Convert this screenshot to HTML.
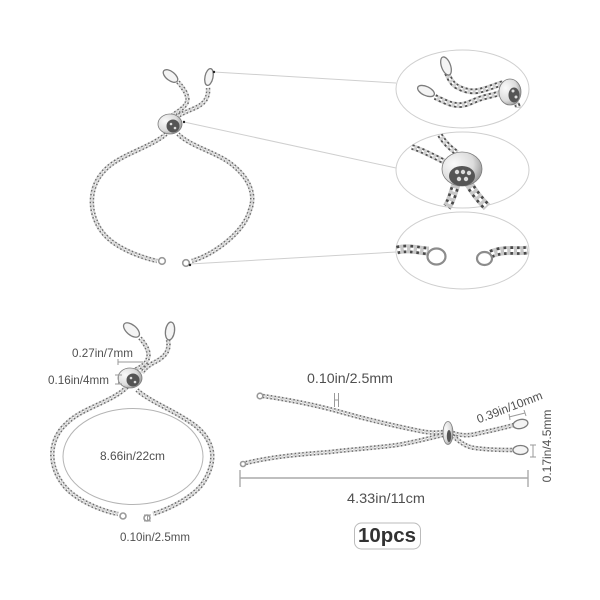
<!DOCTYPE html>
<html><head><meta charset="utf-8">
<style>
html,body{margin:0;padding:0;background:#fff;width:600px;height:600px;overflow:hidden}
svg{display:block}
text{font-family:"Liberation Sans",sans-serif;fill:#505050}
</style></head><body>
<svg width="600" height="600" viewBox="0 0 600 600" xmlns="http://www.w3.org/2000/svg">
<defs>
<filter id="b" x="-5%" y="-5%" width="110%" height="110%"><feGaussianBlur stdDeviation="0.35"/></filter>
<filter id="t" x="-5%" y="-20%" width="110%" height="140%"><feGaussianBlur stdDeviation="0.25"/></filter>
<radialGradient id="sl" cx="0.3" cy="0.35" r="0.8"><stop offset="0" stop-color="#fafafa"/><stop offset="0.6" stop-color="#dcdcdc"/><stop offset="1" stop-color="#8c8c8c"/></radialGradient>
<g id="c1" fill="none">
<path d="M178 82C185 90 190 98 186 104C182 110 176 112 172 116"/>
<path d="M208 88C209 98 204 104 195 108C188 111 183 113 178 116"/>
<path d="M166 134C150 148 118 155 104 171C88 188 88 214 103 233C115 248 140 257 157 261"/>
<path d="M178 134C190 146 215 152 230 163C250 178 256 195 250 210C244 232 215 254 192 261"/>
<path d="M140 338C146 345 150 352 148 358C146 365 140 367 135 370"/>
<path d="M168 340C170 350 166 357 153 363C148 366 144 369 142 373"/>
<path d="M127 387C112 402 82 408 67 423C50 438 47 462 62 483C72 498 98 510 118 514"/>
<path d="M137 390C150 402 178 412 197 427C214 442 218 460 203 483C194 496 172 508 153 514"/>
<path d="M263 396C290 400 315 405 337 411C365 419 395 426 420 431C430 433 436 433 443 432"/>
<path d="M453 436C460 442 466 447 475 448C490 450 503 450 514 450"/>
<path d="M246 463C275 456 305 454 330 452C355 449 375 448 397 445C415 442 430 438 443 435"/>
<path d="M453 433C462 436 470 436 480 433C490 431 503 428 514 425"/>
</g>
<g id="c2" fill="none">
<path d="M447 73C450 80 453 85 458 87C465 91 472 92 478 91C488 89 496 85 503 83"/>
<path d="M435 97C442 100 450 105 458 105C466 106 474 100 482 98C488 96 495 95 500 93"/>
<path d="M514 100C516 103 518 105 518 108"/>
<path d="M412 147C422 150 433 156 445 162"/>
<path d="M440 135C444 142 450 148 457 153"/>
</g>
<g id="c3" fill="none">
<path d="M457 182C453 191 452 200 447 207"/>
<path d="M468 182C473 191 480 200 487 207"/>
<path d="M397 250C410 247 420 251 429 251"/>
<path d="M491 254C505 248 517 252 528 250"/>
</g>
</defs>

<g fill="none" stroke="#cfcfcf" stroke-width="1">
<ellipse cx="462.5" cy="89" rx="66.5" ry="39"/>
<ellipse cx="462.5" cy="170" rx="66.5" ry="38"/>
<ellipse cx="462.5" cy="250.5" rx="66.5" ry="38.5"/>
<path d="M214 72L396 83M184 122L396 168M190 264L396 252"/>
<ellipse cx="133" cy="456.5" rx="70" ry="48" stroke="#b4b4b4"/>
</g>

<g filter="url(#b)">
<use href="#c1" stroke="#d8d8d8" stroke-width="4.6"/>
<use href="#c1" stroke="#6a6a6a" stroke-width="4.4" stroke-dasharray="1.4 2.4"/>
<use href="#c1" stroke="#ffffff" stroke-width="1.3" stroke-dasharray="1.6 2.2"/>
<use href="#c2" stroke="#d0d0d0" stroke-width="6"/>
<use href="#c2" stroke="#505050" stroke-width="5.6" stroke-dasharray="2.2 3"/>
<use href="#c2" stroke="#fff" stroke-width="2" stroke-dasharray="2.5 2.7"/>
<use href="#c3" stroke="#c8c8c8" stroke-width="9"/>
<use href="#c3" stroke="#4a4a4a" stroke-width="8.5" stroke-dasharray="2.6 4"/>
<use href="#c3" stroke="#fff" stroke-width="3" stroke-dasharray="3.5 3.1"/>

<g fill="#f4f4f4" stroke="#7c7c7c" stroke-width="1.3">
<ellipse cx="170.500" cy="76" rx="8.500" ry="4.500" transform="rotate(38 170.500 76)"/>
<ellipse cx="209" cy="77" rx="4" ry="8.500" transform="rotate(12 209 77)"/>
<ellipse cx="131.500" cy="330" rx="9.500" ry="5" transform="rotate(40 131.500 330)"/>
<ellipse cx="170" cy="331" rx="4.500" ry="9" transform="rotate(8 170 331)"/>
<ellipse cx="520.500" cy="450" rx="7.500" ry="4.500"/>
<ellipse cx="520.500" cy="424" rx="7.500" ry="4.500" transform="rotate(-12 520.500 424)"/>
<ellipse cx="446" cy="66" rx="4.500" ry="9.500" transform="rotate(-20 446 66)"/>
<ellipse cx="426" cy="91" rx="9" ry="4.500" transform="rotate(25 426 91)"/>
</g>
<g fill="none" stroke="#9a9a9a" stroke-width="1.6">
<circle cx="162" cy="261" r="3.300"/><circle cx="186" cy="263" r="3.300"/>
<circle cx="123" cy="516" r="3"/><circle cx="147" cy="518" r="3"/>
<circle cx="260" cy="396" r="2.800"/><circle cx="243" cy="464" r="2.500"/>
<ellipse cx="436.500" cy="256.500" rx="9" ry="8" stroke-width="2.200" stroke="#8c8c8c"/>
<ellipse cx="484.500" cy="258.500" rx="7.500" ry="6.500" stroke-width="2.200" stroke="#8c8c8c"/>
</g>
<g stroke="#7c7c7c" stroke-width="0.8" fill="url(#sl)">
<ellipse cx="170" cy="124" rx="12" ry="10"/>
<ellipse cx="130" cy="378" rx="12" ry="10"/>
<ellipse cx="448" cy="433" rx="5" ry="11.500"/>
<ellipse cx="510" cy="92" rx="11" ry="13"/>
<ellipse cx="462" cy="169" rx="20" ry="17"/>
</g>
<g fill="#555">
<ellipse cx="173" cy="126" rx="6.500" ry="6.500"/>
<ellipse cx="133" cy="380" rx="6.500" ry="6.500"/>
<ellipse cx="449" cy="436" rx="2.200" ry="6"/>
<ellipse cx="514" cy="95" rx="5.500" ry="7.500"/>
<ellipse cx="462" cy="176" rx="13" ry="10"/>
</g>
<g fill="#ddd">
<circle cx="171" cy="124" r="1.300"/><circle cx="175" cy="128" r="1.300"/>
<circle cx="131" cy="378" r="1.300"/><circle cx="135" cy="382" r="1.300"/>
<circle cx="457" cy="172" r="2.200"/><circle cx="463" cy="172" r="2.200"/><circle cx="469" cy="173" r="2.200"/><circle cx="459" cy="179" r="2.200"/><circle cx="466" cy="179" r="2.200"/>
<circle cx="513" cy="91" r="1.500"/><circle cx="516" cy="97" r="1.500"/>
</g>
<g fill="#222">
<circle cx="184" cy="122" r="1.200"/><circle cx="214" cy="72" r="1.200"/><circle cx="190" cy="265" r="1.200"/>
</g>
</g>

<g fill="none" stroke="#9a9a9a" stroke-width="1">
<path d="M240 478H528M240 470V487M528 470V487" stroke-width="1.400" stroke="#aaa"/>
<path d="M334.500 393V407M338.500 393V407M334.500 400H338.500"/>
<path d="M118 359V365M118 362H143"/>
<path d="M115 375H122M115 384H122M118.500 375V384"/>
<path d="M144 515H151M144 521H151M147.500 515V521"/>
<path d="M509 417L525 413M509 414L510 420M524 410L526 416"/>
<path d="M530 445H536M530 457H536M533 445V457"/>
</g>

<g filter="url(#t)">
<text x="72" y="357" font-size="11.700" textLength="61" lengthAdjust="spacingAndGlyphs">0.27in/7mm</text>
<text x="48" y="384" font-size="11.700" textLength="61" lengthAdjust="spacingAndGlyphs">0.16in/4mm</text>
<text x="100" y="460" font-size="12" textLength="65" lengthAdjust="spacingAndGlyphs">8.66in/22cm</text>
<text x="120" y="541" font-size="11.600" textLength="70" lengthAdjust="spacingAndGlyphs">0.10in/2.5mm</text>
<text x="307" y="383" font-size="14" textLength="86" lengthAdjust="spacingAndGlyphs">0.10in/2.5mm</text>
<text x="347" y="503" font-size="14" textLength="78" lengthAdjust="spacingAndGlyphs">4.33in/11cm</text>
<text x="0" y="0" font-size="12" text-anchor="middle" transform="translate(511 411) rotate(-21)">0.39in/10mm</text>
<text x="0" y="0" font-size="12" text-anchor="middle" transform="translate(551 446) rotate(-90)">0.17in/4.5mm</text>
<rect x="354.500" y="523" width="66" height="26" rx="7" fill="#fff" stroke="#bbb" stroke-width="1"/>
<text x="358" y="542" font-size="20" font-weight="bold" textLength="58" lengthAdjust="spacingAndGlyphs" style="fill:#333">10pcs</text>
</g>
</svg>
</body></html>
